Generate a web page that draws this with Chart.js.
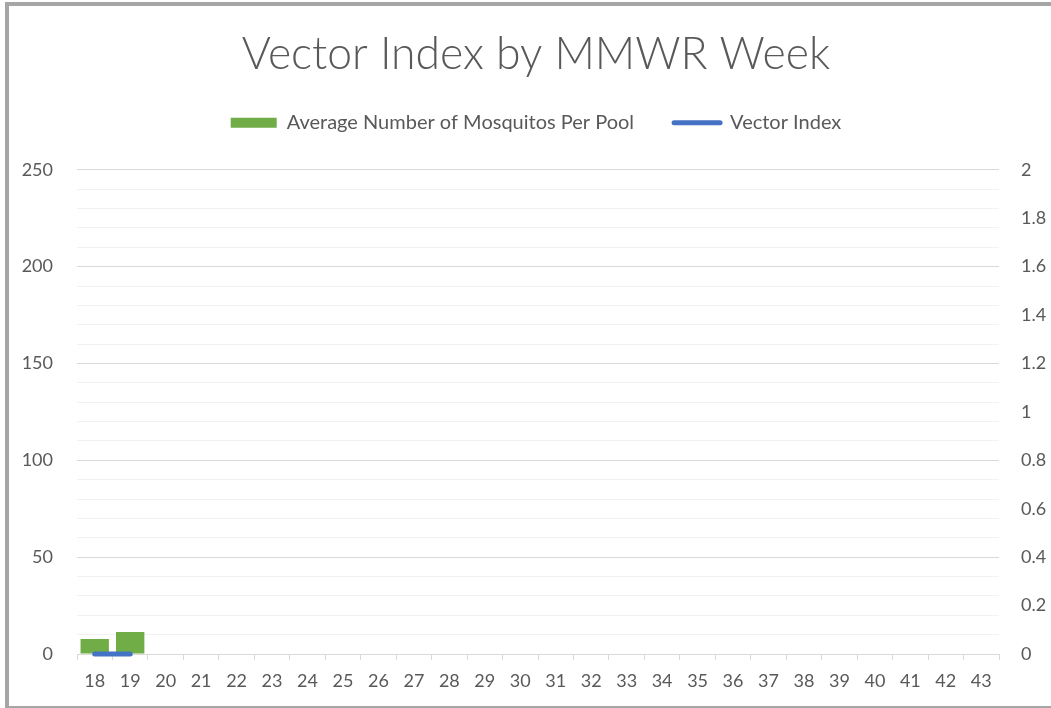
<!DOCTYPE html>
<html>
<head>
<meta charset="utf-8">
<script src="https://cdn.jsdelivr.net/npm/chart.js@4.4.1/dist/chart.umd.min.js"></script>
<style>
  html, body { margin: 0; padding: 0; background: #fff; overflow: hidden; }
  #wrap { position: absolute; left: 0; top: 0; width: 1051px; height: 708px; }
  #frame { position: absolute; left: 5px; top: 2px; width: 1100px; height: 706px; box-sizing: border-box;
           border-left: 4px solid #a6a6a6; border-top: 4px solid #a6a6a6; border-bottom: 2px solid #a6a6a6; pointer-events: none; }
</style>
</head>
<body>
<div id="wrap"><canvas id="c" width="1051" height="708"></canvas></div>
<div id="frame"></div>
<script>
const weeks = ['18','19','20','21','22','23','24','25','26','27','28','29','30','31','32','33','34','35','36','37','38','39','40','41','42','43'];
const avgMosquitosPerPool = [7.7, 11.3, null, null, null, null, null, null, null, null, null, null, null, null, null, null, null, null, null, null, null, null, null, null, null, null];
const vectorIndex = [0, 0, null, null, null, null, null, null, null, null, null, null, null, null, null, null, null, null, null, null, null, null, null, null, null, null];
const seriesNames = ['Average Number of Mosquitos Per Pool', 'Vector Index'];
const titleText = 'Vector Index by MMWR Week';
const leftMax = 250, leftStep = 10, leftLabelEvery = 50;
const rightMax = 2, rightStep = 0.2;

const FONT = 'Lato, "Open Sans", sans-serif';
const TXT = '#595959';
const GREEN = '#70ad47';
const BLUE = '#4472c4';

new Chart(document.getElementById('c'), {
  data: {
    labels: weeks,
    datasets: [
      { type: 'line', label: seriesNames[1], data: vectorIndex, yAxisID: 'y1',
        borderColor: BLUE, backgroundColor: BLUE, borderWidth: 5, borderCapStyle: 'round',
        pointRadius: 0, pointHoverRadius: 0, spanGaps: false, order: 0, clip: 10 },
      { type: 'bar', label: seriesNames[0], data: avgMosquitosPerPool, yAxisID: 'y',
        backgroundColor: GREEN, borderWidth: 0, barPercentage: 1, categoryPercentage: 0.8, order: 1 }
    ]
  },
  options: {
    responsive: false,
    animation: false,
    events: [],
    layout: { padding: { left: 21, right: 0, top: 0, bottom: 0 } },
    plugins: {
      tooltip: { enabled: false },
      title: {
        display: true, text: titleText, color: TXT,
        font: { family: FONT, size: 44.5, weight: 300, lineHeight: 0.8 },
        padding: { top: 37.2, bottom: 0 }
      },
      legend: {
        display: true, position: 'top', weight: 1800,
        labels: {
          font: { family: FONT, size: 20 }, color: TXT,
          usePointStyle: true, pointStyleWidth: 46, boxHeight: 10, padding: 40,
          generateLabels: () => [
            { text: seriesNames[0], pointStyle: 'rect', fillStyle: GREEN, strokeStyle: GREEN, lineWidth: 0, fontColor: TXT, datasetIndex: 1 },
            { text: seriesNames[1], pointStyle: 'line', fillStyle: BLUE, strokeStyle: BLUE, lineWidth: 5, lineCap: 'round', fontColor: TXT, datasetIndex: 0 }
          ]
        }
      },
      subtitle: {
        display: true, text: '', font: { size: 27, lineHeight: 1 }, padding: 0
      }
    },
    scales: {
      x: {
        type: 'category',
        offset: true,
        grid: { display: true, drawOnChartArea: false, drawTicks: true, tickLength: 6, color: '#d9d9d9', offset: true },
        border: { display: true, color: '#d9d9d9', width: 1 },
        ticks: { color: TXT, font: { family: FONT, size: 18 }, padding: 10, autoSkip: false, maxRotation: 0 },
        afterFit: (s) => { s.height = 54; }
      },
      y: {
        type: 'linear', position: 'left', min: 0, max: leftMax,
        grid: { drawTicks: false, color: (ctx) => (ctx.tick && ctx.tick.value % leftLabelEvery === 0) ? '#d9d9d9' : '#f2f2f2' },
        border: { display: false },
        ticks: { stepSize: leftStep, autoSkip: false, color: TXT, font: { family: FONT, size: 18 }, padding: 24,
                 callback: (v) => (v % leftLabelEvery === 0 ? String(v) : '') },
        afterFit: (s) => { s.width = 56; }
      },
      y1: {
        type: 'linear', position: 'right', min: 0, max: rightMax,
        grid: { display: false, drawOnChartArea: false, drawTicks: false },
        border: { display: false },
        ticks: { stepSize: rightStep, autoSkip: false, color: TXT, font: { family: FONT, size: 18 }, padding: 22,
                 callback: (v) => String(Number(v.toFixed(1))) },
        afterFit: (s) => { s.width = 52; }
      }
    }
  }
});
</script>
</body>
</html>
